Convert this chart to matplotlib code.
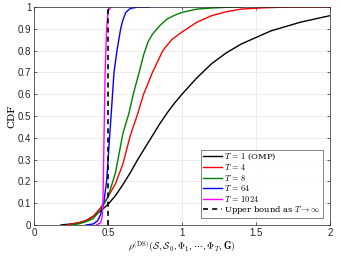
import numpy as np
import matplotlib
matplotlib.use('Agg')
import matplotlib.pyplot as plt

plt.rcParams['mathtext.fontset'] = 'cm'

# CDF curves
x_t1 = [0.18, 0.25, 0.30, 0.35, 0.40, 0.45, 0.50, 0.55, 0.60, 0.65, 0.70, 0.75, 0.80, 0.85,
        0.90, 0.95, 1.00, 1.10, 1.20, 1.30, 1.40, 1.50, 1.60, 1.70, 1.80, 1.90, 2.00]
y_t1 = [0.0, 0.005, 0.01, 0.02, 0.04, 0.065, 0.095, 0.135, 0.185, 0.24, 0.30, 0.355, 0.41, 0.465,
        0.515, 0.56, 0.60, 0.675, 0.74, 0.79, 0.83, 0.86, 0.89, 0.91, 0.93, 0.945, 0.96]

x_t4 = [0.22, 0.30, 0.35, 0.40, 0.45, 0.50, 0.55, 0.60, 0.65, 0.70, 0.74, 0.80, 0.87,
        0.93, 1.00, 1.10, 1.20, 1.30, 1.40, 1.55, 1.70, 2.00]
y_t4 = [0.0, 0.01, 0.02, 0.04, 0.08, 0.13, 0.19, 0.28, 0.41, 0.51, 0.60, 0.70, 0.80,
        0.85, 0.885, 0.93, 0.96, 0.978, 0.99, 0.996, 0.999, 1.0]

x_t8 = [0.25, 0.30, 0.35, 0.40, 0.45, 0.50, 0.55, 0.60, 0.64, 0.67, 0.71, 0.74, 0.77, 0.80,
        0.85, 0.90, 0.95, 1.00, 1.10, 1.20, 1.30, 1.41]
y_t8 = [0.0, 0.005, 0.015, 0.03, 0.07, 0.13, 0.24, 0.42, 0.51, 0.60, 0.70, 0.78, 0.84, 0.875,
        0.915, 0.945, 0.962, 0.975, 0.99, 0.995, 0.998, 1.0]

x_t64 = [0.35, 0.40, 0.43, 0.45, 0.47, 0.49, 0.50, 0.51, 0.52, 0.53, 0.54, 0.56, 0.585,
         0.60, 0.62, 0.65, 0.70, 0.78]
y_t64 = [0.0, 0.005, 0.02, 0.05, 0.10, 0.20, 0.30, 0.40, 0.50, 0.60, 0.70, 0.80, 0.90,
         0.94, 0.975, 0.993, 0.999, 1.0]

x_t1024 = [0.42, 0.45, 0.46, 0.465, 0.47, 0.475, 0.48, 0.49, 0.50, 0.52, 0.53]
y_t1024 = [0.0, 0.01, 0.04, 0.10, 0.30, 0.50, 0.70, 0.90, 0.98, 1.0, 1.0]

bound_x = [0.5, 0.5]
bound_y = [0.0, 1.0]

series = [
    (x_t1, y_t1, 'black', '-', r'$T\,=\,1$ (OMP)'),
    (x_t4, y_t4, '#ff0000', '-', r'$T\,=\,4$'),
    (x_t8, y_t8, '#008000', '-', r'$T\,=\,8$'),
    (x_t64, y_t64, '#0000ff', '-', r'$T\,=\,64$'),
    (x_t1024, y_t1024, '#ff00ff', '-', r'$T\,=\,1024$'),
]

fig = plt.figure(figsize=(3.41, 2.56), dpi=100)
ax = fig.add_axes([0.1, 0.121, 0.868, 0.852])

for xs, ys, c, ls, lab in series:
    ax.plot(xs, ys, color=c, linestyle=ls, linewidth=1.0, label=lab)
ax.plot(bound_x, bound_y, color='black', linestyle=(0, (3, 2.5)), linewidth=1.2,
        label=r'Upper bound as $T\rightarrow\infty$')

ax.set_xlim(0, 2)
ax.set_ylim(0, 1)
ax.set_xticks([0, 0.5, 1, 1.5, 2])
ax.set_xticklabels(['0', '0.5', '1', '1.5', '2'])
yt = np.round(np.arange(0, 1.01, 0.1), 1)
ax.set_yticks(yt)
ax.set_yticklabels(['0'] + ['%.1f' % v for v in yt[1:-1]] + ['1'])
ax.tick_params(direction='in', length=2.5, width=0.5, labelsize=7, colors='#262626',
               top=True, right=True, pad=2)
for lab in ax.get_xticklabels() + ax.get_yticklabels():
    lab.set_family('Liberation Sans')
for s in ax.spines.values():
    s.set_linewidth(0.5)
    s.set_color('#262626')
ax.grid(True, color='#e6e6e6', linewidth=0.5)
ax.set_axisbelow(True)

ax.set_ylabel('CDF', family='serif', fontsize=7.5, labelpad=1)
ax.set_xlabel(r'$\rho^{(\mathrm{DS})}(\mathcal{S},\mathcal{S}_0,\boldsymbol{\Phi}_1,\cdots,\boldsymbol{\Phi}_T,\mathbf{G})$',
              fontsize=7, labelpad=1)

leg = ax.legend(loc='lower right', prop={'family': 'serif', 'size': 6},
                frameon=True, fancybox=False, edgecolor='#262626', handlelength=2.3,
                handletextpad=0.3, borderpad=0.25, labelspacing=0.05,
                borderaxespad=0.3, bbox_to_anchor=(0.985, 0.02))
leg.get_frame().set_linewidth(0.5)

fig.savefig('out.png', dpi=100)
